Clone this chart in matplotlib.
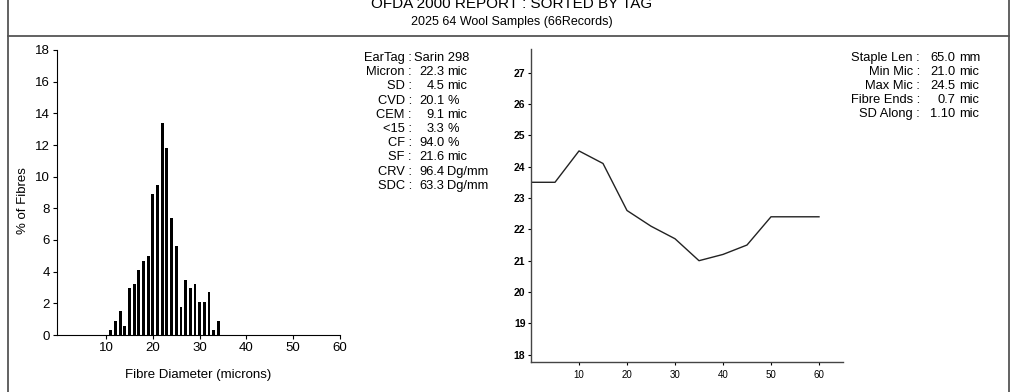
import numpy as np
import matplotlib.pyplot as plt
from matplotlib.lines import Line2D

plt.rcParams['font.family'] = ['Liberation Sans', 'DejaVu Sans']

# histogram: fibre diameter (microns) vs % of fibres
diam = np.arange(11, 35)
pct = [0.3, 0.9, 1.5, 0.6, 3.0, 3.2, 4.1, 4.7, 5.0, 8.9, 9.5, 13.4,
       11.8, 7.4, 5.6, 1.8, 3.5, 3.0, 3.2, 2.1, 2.1, 2.7, 0.3, 0.9]

# profile along staple
pos = [0, 5, 10, 15, 20, 25, 30, 35, 40, 45, 50, 55, 60]
mic = [23.5, 23.5, 24.5, 24.1, 22.6, 22.1, 21.7, 21.0, 21.2, 21.5, 22.4, 22.4, 22.4]

stat_names = ['Micron', 'SD', 'CVD', 'CEM', '<15', 'CF', 'SF', 'CRV', 'SDC']
stat_vals = ['22.3', '4.5', '20.1', '9.1', '3.3', '94.0', '21.6', '96.4', '63.3']
stat_units = ['mic', 'mic', '%', 'mic', '%', '%', 'mic', 'Dg/mm', 'Dg/mm']

prof_names = ['Staple Len', 'Min Mic', 'Max Mic', 'Fibre Ends', 'SD Along']
prof_vals = ['65.0', '21.0', '24.5', '0.7', '1.10']
prof_units = ['mm', 'mic', 'mic', 'mic', 'mic']

W, H = 1024, 392
fig = plt.figure(figsize=(W / 100, H / 100), dpi=100)

def fx(px):
    return px / W

def fy(py):
    return 1 - py / H

# frame lines
for seg in [((8, 8), (0, H)), ((1009, 1009), (0, H)), ((8, 1009), (36, 36))]:
    fig.add_artist(Line2D([fx(v) for v in seg[0]], [fy(v) for v in seg[1]],
                          color='#555555', lw=1.3))

fig.text(0.5, fy(4), 'OFDA 2000 REPORT : SORTED BY TAG', ha='center', va='center', fontsize=11)
fig.text(0.5, fy(22), '2025 64 Wool Samples (66Records)', ha='center', va='center', fontsize=9)

# left histogram
ax1 = fig.add_axes([fx(57), fy(335), fx(340 - 57), fy(50) - fy(335)])
ax1.bar(diam, pct, width=0.62, color='black')
ax1.set_xlim(-0.5, 60)
ax1.set_ylim(0, 18)
ax1.set_xticks([10, 20, 30, 40, 50, 60])
ax1.set_yticks(range(0, 19, 2))
ax1.tick_params(labelsize=9.5, length=3, width=0.8, pad=2)
ax1.set_xlabel('Fibre Diameter (microns)', fontsize=9.5, labelpad=11)
ax1.set_ylabel('% of Fibres', fontsize=9.5)
ax1.yaxis.set_label_coords(-0.098, 0.47)
for s in ['top', 'right']:
    ax1.spines[s].set_visible(False)
for s in ['left', 'bottom']:
    ax1.spines[s].set_linewidth(0.8)

# stats block
fs = 9.3
fig.text(fx(412), fy(58), 'EarTag :', ha='right', va='center', fontsize=fs)
fig.text(fx(414), fy(58), 'Sarin 298', ha='left', va='center', fontsize=fs)
for i, (n, v, u) in enumerate(zip(stat_names, stat_vals, stat_units)):
    y = fy(72 + i * 14.25)
    fig.text(fx(412), y, n + ' :', ha='right', va='center', fontsize=fs)
    fig.text(fx(444.5), y, v, ha='right', va='center', fontsize=fs)
    fig.text(fx(447.5), y, u, ha='left', va='center', fontsize=fs)

for i, (n, v, u) in enumerate(zip(prof_names, prof_vals, prof_units)):
    y = fy(58 + i * 14.1)
    fig.text(fx(920), y, n + ' :', ha='right', va='center', fontsize=fs)
    fig.text(fx(955.5), y, v, ha='right', va='center', fontsize=fs)
    fig.text(fx(959), y, u, ha='left', va='center', fontsize=fs)

# right profile
ax2 = fig.add_axes([fx(531), fy(362), fx(843 - 531), fy(49) - fy(362)])
ax2.plot(pos, mic, color='#222222', lw=1.0)
ax2.set_xlim(0, 65)
ax2.set_ylim(17.77, 27.75)
ax2.set_xticks([10, 20, 30, 40, 50, 60])
ax2.set_yticks(range(18, 28))
ax2.tick_params(axis='x', labelsize=7, length=2, width=0.8, pad=4)
ax2.tick_params(axis='y', labelsize=7.5, length=2, width=0.8, pad=2)
for t in ax2.get_yticklabels():
    t.set_fontweight('bold')
for s in ['top', 'right']:
    ax2.spines[s].set_visible(False)
for s in ['left', 'bottom']:
    ax2.spines[s].set_linewidth(1.0)
    ax2.spines[s].set_color('#444444')

fig.savefig('out.png', dpi=100)
